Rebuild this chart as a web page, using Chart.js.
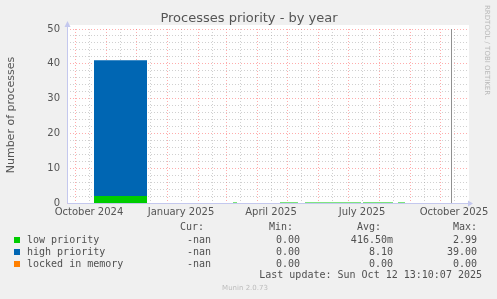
<!DOCTYPE html>
<html>
<head>
<meta charset="utf-8">
<script src="https://cdn.jsdelivr.net/npm/chart.js@4.4.1/dist/chart.umd.min.js"></script>
<style>
  body { margin: 0; background: #f0f0f0; }
  canvas { display: block; }
</style>
</head>
<body>
<canvas id="myChart" width="497" height="299"></canvas>
<script>
// year graph: 400 days, last update Oct 12 2025
const startDate = '2024-09-23';
const endDate = '2025-10-28';
const nowDate = '2025-10-12';

// stretches of data (start / end) and the value of each series in them
const segStart = ['2024-10-20', '2025-03-08', '2025-04-24', '2025-05-19', '2025-07-16', '2025-08-20'];
const segEnd = ['2024-12-12', '2025-03-12', '2025-05-12', '2025-07-14', '2025-08-15', '2025-08-27'];
const lowPriority = [2, 0.15, 0.15, 0.15, 0.15, 0.15];
const highPriority = [39, 0, 0, 0, 0, 0];
const lockedMemory = [0, 0, 0, 0, 0, 0];

const monthLines = ['2024-10-01', '2024-11-01', '2024-12-01', '2025-01-01', '2025-02-01', '2025-03-01',
    '2025-04-01', '2025-05-01', '2025-06-01', '2025-07-01', '2025-08-01', '2025-09-01', '2025-10-01'];
const midLines = ['2024-10-15', '2024-11-15', '2024-12-15', '2025-01-15', '2025-02-15', '2025-03-15',
    '2025-04-15', '2025-05-15', '2025-06-15', '2025-07-15', '2025-08-15', '2025-09-15', '2025-10-15'];
const xLabelDates = ['2024-10-15', '2025-01-15', '2025-04-15', '2025-07-15', '2025-10-15'];
const xLabelTexts = ['October 2024', 'January 2025', 'April 2025', 'July 2025', 'October 2025'];
const yLabels = [0, 10, 20, 30, 40, 50];

const legendNames = ['low priority', 'high priority', 'locked in memory'];
const colors = ['#00cc00', '#0066b3', '#ff8000'];
const curValues = ['-nan', '-nan', '-nan'];
const minValues = ['0.00', '0.00', '0.00'];
const avgValues = ['416.50m', '8.10', '0.00'];
const maxValues = ['2.99', '39.00', '0.00'];
const lastUpdate = 'Last update: Sun Oct 12 13:10:07 2025';

const day = (s) => (Date.parse(s) - Date.parse(startDate)) / 864e5;

const monthDays = monthLines.map(day);
const xTickDays = monthLines.concat(midLines).map(day).sort((a, b) => a - b);
const labelByDay = {};
xLabelDates.forEach((d, i) => { labelByDay[day(d)] = xLabelTexts[i]; });

function points(values) {
    const out = [];
    values.forEach((v, i) => {
        out.push({ x: day(segStart[i]), y: v });
        out.push({ x: day(segEnd[i]), y: v });
        out.push({ x: day(segEnd[i]) + 0.5, y: null });
    });
    return out;
}

const RED = 'rgba(255,90,90,0.5)';
const GRAY = 'rgba(150,150,150,0.45)';
const AXIS = '#c4c8ee';

const muninPlugin = {
    id: 'munin',
    beforeDraw(chart) {
        const { ctx, chartArea: a } = chart;
        ctx.save();
        ctx.fillStyle = '#f0f0f0';
        ctx.fillRect(0, 0, chart.width, chart.height);
        ctx.fillStyle = '#ffffff';
        ctx.fillRect(a.left, a.top - 4, a.right - a.left + 2, a.bottom - a.top + 4);
        ctx.restore();
    },
    afterDraw(chart) {
        const { ctx, chartArea: a } = chart;
        const xs = chart.scales.x;
        ctx.save();

        // now line
        const nx = Math.round(xs.getPixelForValue(day(nowDate))) + 0.5;
        ctx.strokeStyle = '#909090';
        ctx.lineWidth = 1;
        ctx.beginPath();
        ctx.moveTo(nx, a.top);
        ctx.lineTo(nx, a.bottom);
        ctx.stroke();

        // axes with arrows
        const ax = a.left + 0.5, ay = a.bottom + 0.5;
        ctx.strokeStyle = AXIS;
        ctx.beginPath();
        ctx.moveTo(ax, ay);
        ctx.lineTo(ax, a.top - 4);
        ctx.moveTo(ax, ay);
        ctx.lineTo(a.right + 2, ay);
        ctx.stroke();
        ctx.fillStyle = AXIS;
        ctx.beginPath();
        ctx.moveTo(ax, a.top - 8);
        ctx.lineTo(ax - 3, a.top - 2);
        ctx.lineTo(ax + 3, a.top - 2);
        ctx.closePath();
        ctx.fill();
        ctx.beginPath();
        ctx.moveTo(a.right + 6, ay);
        ctx.lineTo(a.right + 1, ay - 3);
        ctx.lineTo(a.right + 1, ay + 3);
        ctx.closePath();
        ctx.fill();

        // titles
        ctx.fillStyle = '#555';
        ctx.textBaseline = 'middle';
        ctx.textAlign = 'center';
        ctx.font = "13px 'DejaVu Sans'";
        ctx.fillText('Processes priority - by year', 249, 19);

        ctx.save();
        ctx.translate(11, 115);
        ctx.rotate(-Math.PI / 2);
        ctx.font = "11px 'DejaVu Sans'";
        ctx.fillText('Number of processes', 0, 0);
        ctx.restore();

        ctx.save();
        ctx.translate(487, 5);
        ctx.rotate(Math.PI / 2);
        ctx.textAlign = 'left';
        ctx.fillStyle = '#b8b8b8';
        ctx.font = "7px 'DejaVu Sans'";
        ctx.fillText('RRDTOOL / TOBI OETIKER', 0, 0);
        ctx.restore();

        // legend table
        ctx.font = "10px 'DejaVu Sans Mono'";
        ctx.fillStyle = '#505050';
        ctx.textAlign = 'right';
        ctx.fillText('Cur:', 204, 227);
        ctx.fillText('Min:', 293, 227);
        ctx.fillText('Avg:', 381, 227);
        ctx.fillText('Max:', 477, 227);
        legendNames.forEach((name, i) => {
            const y = 240 + i * 12;
            ctx.fillStyle = colors[i];
            ctx.fillRect(14, y - 3, 6, 6);
            ctx.fillStyle = '#505050';
            ctx.textAlign = 'left';
            ctx.fillText(name, 27, y);
            ctx.textAlign = 'right';
            ctx.fillText(curValues[i], 211, y);
            ctx.fillText(minValues[i], 300, y);
            ctx.fillText(avgValues[i], 393, y);
            ctx.fillText(maxValues[i], 477, y);
        });
        ctx.fillText(lastUpdate, 482, 275);

        ctx.textAlign = 'center';
        ctx.fillStyle = '#bcbcbc';
        ctx.font = "7px 'DejaVu Sans'";
        ctx.fillText('Munin 2.0.73', 245, 288);
        ctx.restore();
    }
};

Chart.defaults.font.family = "'DejaVu Sans', sans-serif";
Chart.defaults.font.size = 10;
Chart.defaults.color = '#555';

const datasets = [lowPriority, highPriority, lockedMemory].map((vals, i) => ({
    label: legendNames[i],
    data: points(vals),
    backgroundColor: colors[i],
    borderColor: 'transparent',
    borderWidth: 0,
    pointRadius: 0,
    fill: i === 0 ? 'origin' : '-1',
    spanGaps: false
}));

const myChart = new Chart(document.getElementById('myChart'), {
    type: 'line',
    data: { datasets: datasets },
    options: {
        responsive: false,
        animation: false,
        events: [],
        layout: { padding: { top: 29, right: 30, left: 0, bottom: 0 } },
        plugins: { legend: { display: false }, tooltip: { enabled: false } },
        scales: {
            x: {
                type: 'linear',
                min: 0,
                max: day(endDate),
                z: 1,
                afterFit: (scale) => { scale.height = 96; },
                afterBuildTicks: (scale) => { scale.ticks = xTickDays.map(v => ({ value: v })); },
                grid: {
                    drawTicks: false,
                    color: (c) => monthDays.includes(c.tick.value) ? RED : GRAY
                },
                border: { display: false, dash: [1, 2] },
                ticks: {
                    autoSkip: false,
                    maxRotation: 0,
                    padding: 3,
                    callback: (v) => labelByDay[v] || ''
                }
            },
            y: {
                stacked: true,
                min: 0,
                max: 50,
                z: 1,
                afterFit: (scale) => { scale.width = 67; },
                grid: {
                    drawTicks: false,
                    color: (c) => yLabels.includes(c.tick.value) ? RED : GRAY
                },
                border: { display: false, dash: [1, 2] },
                ticks: {
                    stepSize: 2,
                    padding: 7,
                    autoSkip: false,
                    callback: (v) => yLabels.includes(v) ? v : ''
                }
            }
        }
    },
    plugins: [muninPlugin]
});
</script>
</body>
</html>
